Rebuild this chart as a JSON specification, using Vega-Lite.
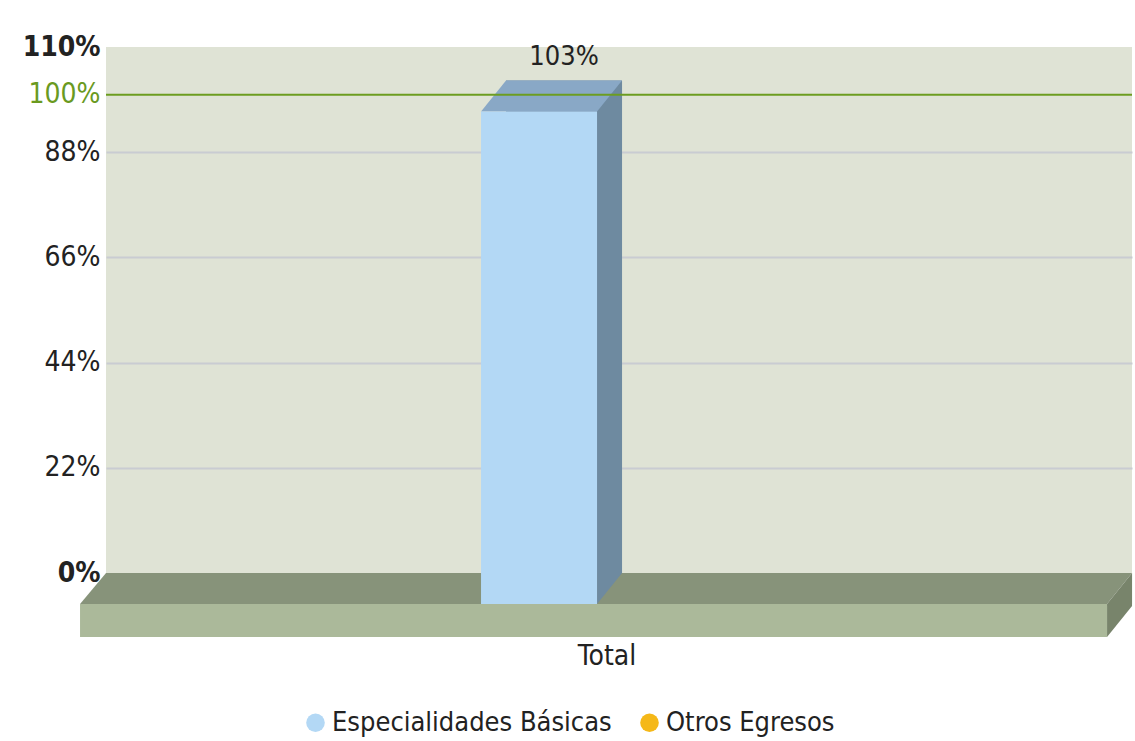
{
  "$schema": "https://vega.github.io/schema/vega-lite/v6.json",
  "width": 1026,
  "height": 526,
  "autosize": {"type": "none"},
  "padding": {"left": 106, "top": 47, "right": 3, "bottom": 168},
  "background": "#ffffff",
  "config": {
    "view": {"fill": "#dfe3d5", "stroke": null},
    "font": "DejaVu Sans Condensed",
    "legend": {"symbolType": "circle", "symbolSize": 346, "symbolStrokeWidth": 0}
  },
  "data": {"values": [{"categoria": "Total", "serie": "Especialidades Básicas", "valor": 103}]},
  "layer": [
    {
      "mark": {"type": "point", "shape": "M-458,0L568,0L543,31L-484,31Z", "size": 4, "filled": true, "color": "#87937a", "opacity": 1, "strokeWidth": 0},
      "encoding": {
        "x": {"field": "categoria", "type": "nominal", "scale": {"paddingInner": 0.745, "paddingOuter": 1, "align": 0.4396},
          "axis": {"title": null, "domain": false, "ticks": false, "labelFontSize": 28, "labelColor": "#222222", "labelPadding": 69, "labelOffset": 43, "labelAngle": 0}},
        "y": {"datum": 0, "type": "quantitative", "scale": {"domain": [0, 110], "nice": false, "zero": false},
          "axis": {"title": null, "values": [0, 22, 44, 66, 88, 100, 110], "domain": false, "ticks": false, "labelPadding": 6,
            "labelExpr": "datum.value + '%'", "labelFontSize": 28,
            "labelColor": {"condition": {"test": "datum.value == 100", "value": "#6a9a1f"}, "value": "#222222"},
            "labelFontWeight": {"condition": {"test": "datum.value == 0 || datum.value == 110", "value": "bold"}, "value": "normal"},
            "grid": true, "gridWidth": 2, "gridColor": "#c9ccd2",
            "gridOpacity": {"condition": {"test": "datum.value == 0 || datum.value == 110 || datum.value == 100", "value": 0}, "value": 1}}}
      }
    },
    {
      "mark": {"type": "point", "shape": "M-484,31L543,31L543,64L-484,64Z", "size": 4, "filled": true, "color": "#abb99a", "opacity": 1, "strokeWidth": 0},
      "encoding": {
        "x": {"field": "categoria", "type": "nominal"},
        "y": {"datum": 0, "type": "quantitative"}
      }
    },
    {
      "mark": {"type": "point", "shape": "M543,31L568,0L568,33L543,64Z", "size": 4, "filled": true, "color": "#78846b", "opacity": 1, "strokeWidth": 0},
      "encoding": {
        "x": {"field": "categoria", "type": "nominal"},
        "y": {"datum": 0, "type": "quantitative"}
      }
    },
    {
      "mark": {"type": "bar", "color": "#6e8aa0"},
      "encoding": {
        "x": {"field": "categoria", "type": "nominal"},
        "y": {"field": "valor", "type": "quantitative"},
        "y2": {"datum": 0}
      }
    },
    {
      "mark": {"type": "point", "shape": "M33,0L58,0L33,31Z", "size": 4, "filled": true, "color": "#6e8aa0", "opacity": 1, "strokeWidth": 0},
      "encoding": {
        "x": {"field": "categoria", "type": "nominal"},
        "y": {"datum": 0, "type": "quantitative"}
      }
    },
    {
      "mark": {"type": "point", "shape": "M-58,0L58,0L33,31L-83,31Z", "size": 4, "filled": true, "color": "#89a8c6", "opacity": 1, "strokeWidth": 0},
      "encoding": {
        "x": {"field": "categoria", "type": "nominal"},
        "y": {"field": "valor", "type": "quantitative"}
      }
    },
    {
      "mark": {"type": "bar", "xOffset": -25, "x2Offset": -25, "yOffset": 31, "y2Offset": 31},
      "encoding": {
        "x": {"field": "categoria", "type": "nominal"},
        "y": {"field": "valor", "type": "quantitative"},
        "y2": {"datum": 0},
        "color": {"field": "serie", "type": "nominal",
          "scale": {"domain": ["Especialidades Básicas", "Otros Egresos"], "range": ["#b3d8f5", "#f5b818"]},
          "legend": {"title": null, "orient": "none", "direction": "horizontal", "legendX": 196, "legendY": 662,
            "labelFontSize": 27, "labelColor": "#222222", "labelOffset": 3, "columnPadding": 24, "labelLimit": 500}}
      }
    },
    {
      "mark": {"type": "rule", "color": "#6c9d20", "strokeWidth": 2},
      "encoding": {"y": {"datum": 100, "type": "quantitative"}}
    },
    {
      "mark": {"type": "text", "fontSize": 27, "color": "#222222", "dy": -15, "baseline": "alphabetic", "text": {"expr": "datum.valor + '%'"}},
      "encoding": {
        "x": {"field": "categoria", "type": "nominal"},
        "y": {"field": "valor", "type": "quantitative"}
      }
    }
  ]
}
